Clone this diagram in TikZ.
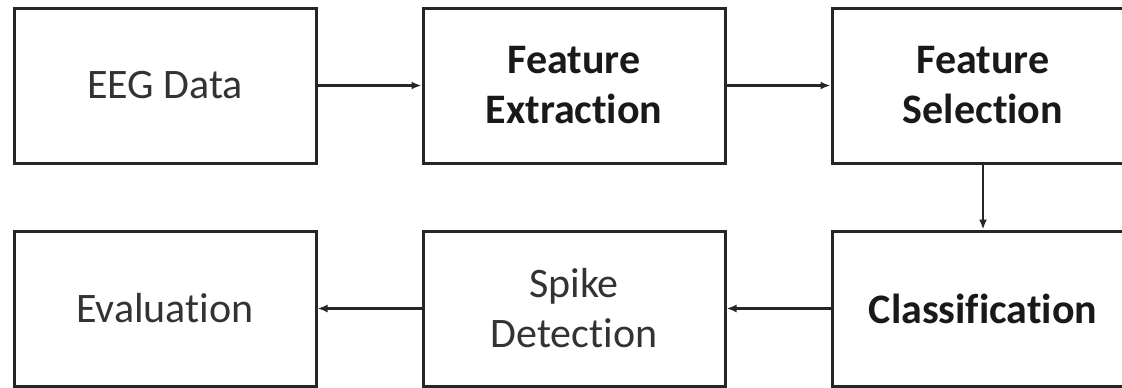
\documentclass[tikz,border=0pt]{standalone}
\usepackage{fontspec}
\setmainfont{Carlito}[Ligatures=NoCommon]
\usetikzlibrary{arrows.meta}
\tikzset{
  stage/.style={draw=black!85, line width=3pt, minimum width=302pt, minimum height=155pt,
    inner sep=0pt, align=center, font=\fontsize{42}{50}\selectfont, text=black!80},
  key/.style={stage, font=\fontsize{42}{50}\selectfont\bfseries, text=black!90},
  flow/.style={draw=black!85, line width=2.2pt, -{Latex[length=10pt,width=8pt]}}
}
\begin{document}
\begin{tikzpicture}[x=1pt,y=-1pt]
  \useasboundingbox (0,0) rectangle (1122,388);
  \clip (0,0) rectangle (1122,388);
  % top row
  \node[stage] (eeg) at (165,85.5) {EEG Data};
  \node[key]   (fe)  at (574,85.5) {Feature\\Extraction};
  \node[key]   (fs)  at (983,85.5) {Feature\\Selection};
  % bottom row
  \node[key]   (cls) at (983,308.5) {Classification};
  \node[stage] (sd)  at (574,308.5) {Spike\\Detection};
  \node[stage] (ev)  at (165,308.5) {Evaluation};
  % connectors
  \draw[flow] (eeg.east) -- (fe.west);
  \draw[flow] (fe.east) -- (fs.west);
  \draw[flow] (fs.south) -- (cls.north);
  \draw[flow] (cls.west) -- (sd.east);
  \draw[flow] (sd.west) -- (ev.east);
\end{tikzpicture}
\end{document}
